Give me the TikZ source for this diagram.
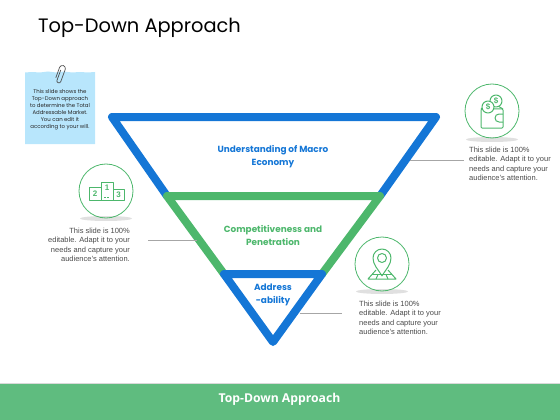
\documentclass[tikz,border=0pt]{standalone}
\usepackage{fontspec}
\usepackage{xcolor}
\setmainfont{Liberation Sans}
\newfontfamily\geofont{Poppins}
\newfontfamily\barfont{Open Sans}
\usetikzlibrary{positioning, calc}
\definecolor{funnelBlue}{HTML}{1476D6}
\definecolor{funnelGreen}{HTML}{4DB76C}
\definecolor{barGreen}{HTML}{5FBC7F}
\definecolor{noteBlue}{HTML}{B8E6FC}
\definecolor{bodyGray}{HTML}{4A4A4A}
\tikzset{
  funnelline/.style={line width=8pt, line join=round, line cap=round},
  funnellabel/.style={font=\geofont\fontsize{8.9}{13}\selectfont\bfseries, align=center},
  bodytext/.style={font=\fontsize{7.5}{9.5}\selectfont, text=bodyGray, inner sep=0pt},
  iconring/.style={draw=funnelGreen, line width=0.8pt, circle, minimum size=54pt, inner sep=0pt},
  iconline/.style={draw=funnelGreen, line width=1pt, line join=round},
  iconfont/.style={font=\fontsize{8}{8}\selectfont\bfseries, text=funnelGreen, inner sep=0pt},
  ringshadow/.style={fill=black!12, draw=none},
  leader/.style={draw=black!35, line width=0.6pt},
}
\begin{document}
\begin{tikzpicture}[x=1pt, y=-1pt]
  \useasboundingbox (0, 0) rectangle (560, 420);
  \node[font=\geofont\fontsize{19.4}{24}\selectfont, text=black, anchor=center] (title) at (139.5, 27.5)
        {Top-Down Approach};

  % sticky note
  \fill[noteBlue] (25, 72.5) -- (32, 72) -- (40, 72.5) -- (48, 71.5) -- (56, 72.5) -- (64, 71.5) -- (72, 72.5)
        -- (80, 72) -- (88, 72.5) -- (95, 72) -- (95, 144) -- (25, 144) -- cycle;
  \draw[black!70, line width=0.7pt, rotate around={-20:(60, 75)}]
        (59, 70) -- (59, 81) arc (180:0:2) -- (63, 68) arc (0:-180:3) -- (57, 79);
  \node[font=\geofont\fontsize{5.4}{7}\selectfont, text=black!85, align=center, inner sep=0pt] (note) at (60, 110)
        {This slide shows the\\Top-Down approach\\to determine the Total\\Addressable Market.\\You can edit it\\according to your will.};

  % funnel
  \coordinate (topL) at (112, 117);
  \coordinate (topR) at (436, 117);
  \coordinate (midL) at (167, 196);
  \coordinate (midR) at (380, 196);
  \coordinate (lowL) at (224, 274);
  \coordinate (lowR) at (322, 274);
  \coordinate (apex) at (273, 342);
  \draw[funnelline, funnelBlue] (midL) -- (topL) -- (topR) -- (midR);
  \draw[funnelline, funnelGreen] (lowL) -- (midL) -- (midR) -- (lowR);
  \draw[funnelline, funnelBlue] (lowL) -- (lowR) -- (apex) -- cycle;
  \node[funnellabel, text=funnelBlue] (macro) at (273, 156.5) {Understanding of Macro\\Economy};
  \node[funnellabel, text=funnelGreen] (comp) at (273, 235.5) {Competitiveness and\\Penetration};
  \node[funnellabel, text=funnelBlue] (addr) at (273, 294.5) {Address\\-ability};

  % wallet
  \fill[ringshadow] (492, 139.5) ellipse (26 and 2.5);
  \node[iconring] (walletring) at (492, 111) {};
  \draw[iconline, rounded corners=1pt] (481, 109) rectangle (503, 128);
  \draw[iconline] (481, 109) -- (484, 106) (498, 106) -- (503, 109);
  \draw[iconline, fill=white] (496, 101) circle (6);
  \draw[iconline, fill=white] (488, 107) circle (6);
  \node[iconfont] (coinA) at (488, 107) {\$};
  \node[iconfont] (coinB) at (496, 101) {\$};
  \draw[iconline] (503, 114) -- (499, 114) arc (270:90:4) -- (503, 122);
  \node[bodytext, anchor=north west, align=left] (walletnote) at (469, 146.5)
        {This slide is 100\%\\editable. Adapt it to your\\needs and capture your\\audience's attention.};

  % podium
  \fill[ringshadow] (106, 218.5) ellipse (26 and 2.5);
  \node[iconring] (podiumring) at (106, 191) {};
  \draw[iconline] (89, 187) rectangle (101, 200);
  \draw[iconline] (101, 182) rectangle (113, 200);
  \draw[iconline] (113, 189) rectangle (124, 200);
  \draw[iconline, dashed, dash pattern=on 2pt off 1pt] (104, 197) -- (110, 197);
  \node[iconfont] (placeB) at (95, 193.5) {2};
  \node[iconfont] (placeA) at (107, 188) {1};
  \node[iconfont] (placeC) at (118.5, 194.5) {3};
  \node[bodytext, anchor=north east, align=right] (podiumnote) at (130, 227.5)
        {This slide is 100\%\\editable. Adapt it to your\\needs and capture your\\audience's attention.};

  % pin
  \fill[ringshadow] (382, 291.5) ellipse (26 and 2.5);
  \node[iconring] (pinring) at (382, 264) {};
  \draw[iconline] (382, 276) .. controls (378, 269) and (373, 265) .. (373, 258)
        arc (180:360:9) .. controls (391, 265) and (386, 269) .. (382, 276);
  \draw[iconline] (382, 258) circle (4.5);
  \draw[iconline] (376, 270) -- (368, 279) -- (396, 279) -- (388, 270);
  \draw[iconline] (372, 274.5) -- (392, 274.5);
  \draw[iconline] (378, 274.5) -- (376, 279) (386, 274.5) -- (388, 279);
  \node[bodytext, anchor=north west, align=left] (pinnote) at (359, 300.5)
        {This slide is 100\%\\editable. Adapt it to your\\needs and capture your\\audience's attention.};

  % leaders
  \coordinate (walletend) at (464, 160);
  \coordinate (walletstart) at (410, 160);
  \coordinate (podiumend) at (148, 240);
  \coordinate (podiumstart) at (197, 240);
  \coordinate (pinend) at (342, 313);
  \coordinate (pinstart) at (300, 313);
  \draw[leader] (walletstart) -- (walletend);
  \draw[leader] (podiumstart) -- (podiumend);
  \draw[leader] (pinstart) -- (pinend);

  % footer
  \fill[barGreen] (0, 384) rectangle (560, 420);
  \draw[black!15, line width=0.8pt] (0, 383.5) -- (560, 383.5);
  \node[font=\barfont\fontsize{12.2}{14}\selectfont\bfseries, text=white] (footer) at (279.5, 399)
        {Top-Down Approach};
\end{tikzpicture}
\end{document}
